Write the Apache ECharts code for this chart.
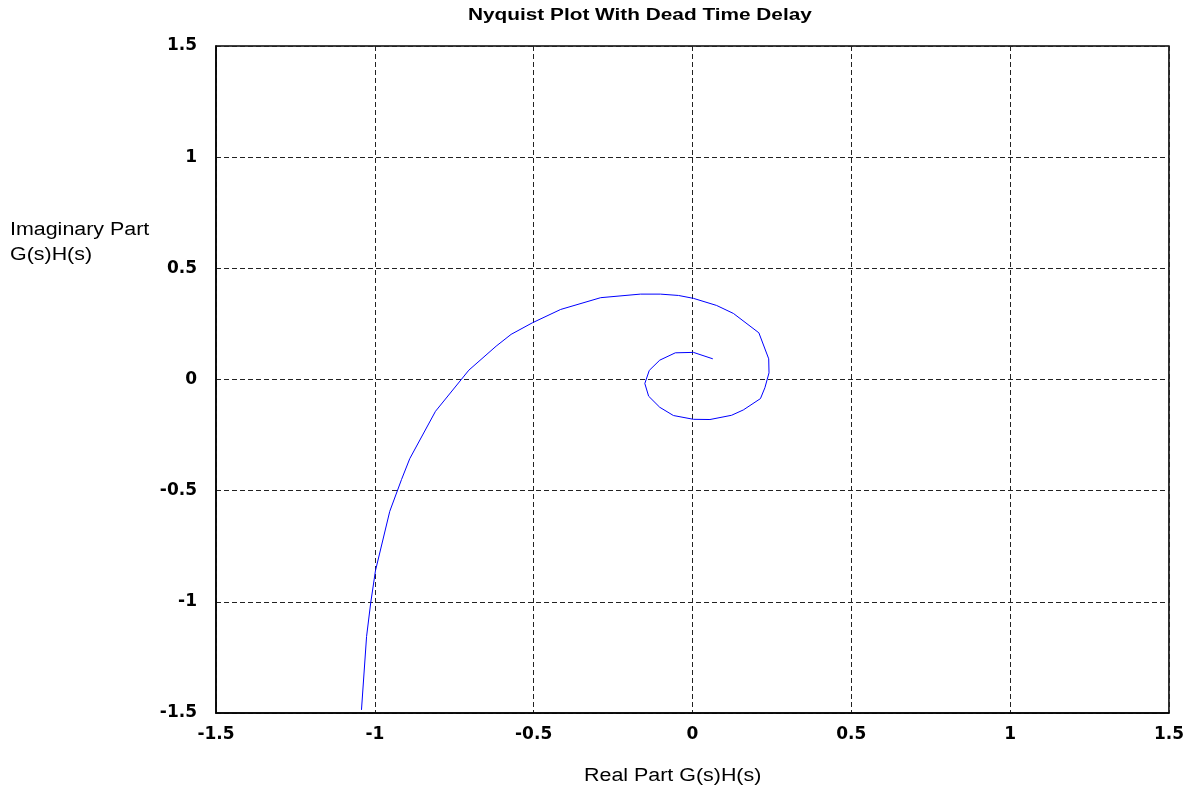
<!DOCTYPE html>
<html><head><meta charset="utf-8">
<script src="https://cdn.jsdelivr.net/npm/echarts@6/dist/echarts.min.js"></script>
<style>html,body{margin:0;padding:0;background:#fff}#c{width:1187px;height:793px}</style>
</head><body><div id="c"></div>
<script>
const realPart = [-1.042,-1.026,-1.013,-0.998,-0.953,-0.916,-0.890,-0.809,-0.704,-0.618,-0.571,-0.504,-0.415,-0.289,-0.164,-0.101,-0.044,0.003,0.076,0.129,0.209,0.240,0.241,0.228,0.214,0.160,0.123,0.055,0.003,-0.060,-0.103,-0.138,-0.150,-0.136,-0.103,-0.054,0.003,0.064];
const imagPart = [-1.486,-1.156,-1.005,-0.860,-0.593,-0.450,-0.356,-0.143,0.042,0.150,0.203,0.255,0.315,0.368,0.384,0.384,0.378,0.365,0.333,0.297,0.210,0.093,0.030,-0.037,-0.086,-0.137,-0.161,-0.180,-0.179,-0.162,-0.125,-0.075,-0.018,0.041,0.087,0.120,0.122,0.093];
const xTicks = [-1.5,-1,-0.5,0,0.5,1,1.5];
const yTicks = [-1.5,-1,-0.5,0,0.5,1,1.5];
const titleText = 'Nyquist Plot With Dead Time Delay';
const xName = 'Real Part G(s)H(s)';
const yNameLines = ['Imaginary Part','G(s)H(s)'];
const data = realPart.map((x,i)=>[x,imagPart[i]]);
const chart = echarts.init(document.getElementById('c'));
const tickFont = {fontFamily:'DejaVu Sans',fontWeight:'bold',fontSize:17,color:'#000'};
chart.setOption({
  animation:false,
  backgroundColor:'#fff',
  grid:{left:216,right:15,top:46,bottom:80,show:true,borderColor:'#000',borderWidth:1.5,backgroundColor:'transparent'},
  xAxis:{type:'value',min:xTicks[0],max:xTicks[xTicks.length-1],interval:0.5,
    axisLine:{show:true,onZero:false,lineStyle:{color:'#000',width:1.5}},axisTick:{show:false},
    axisLabel:Object.assign({margin:13},tickFont),
    splitLine:{show:true,lineStyle:{color:'#222',type:[5,3],width:1}}},
  yAxis:{type:'value',min:yTicks[0],max:yTicks[yTicks.length-1],interval:0.5,
    axisLine:{show:true,onZero:false,lineStyle:{color:'#000',width:1.5}},axisTick:{show:false},
    axisLabel:Object.assign({margin:19},tickFont),
    splitLine:{show:true,lineStyle:{color:'#222',type:[5,3],width:1}}},
  graphic:[
    {type:'text',x:468,y:16,scaleX:1.3,style:{text:titleText,font:'bold 16px "Liberation Sans", Arial',fill:'#000',textVerticalAlign:'middle'}},
    {type:'text',x:584,y:776,scaleX:1.19,style:{text:xName,font:'18px "Liberation Sans", Arial',fill:'#000',textVerticalAlign:'middle'}},
    {type:'text',x:10,y:230,scaleX:1.19,style:{text:yNameLines[0],font:'18px "Liberation Sans", Arial',fill:'#000',textVerticalAlign:'middle'}},
    {type:'text',x:10,y:255,scaleX:1.19,style:{text:yNameLines[1],font:'18px "Liberation Sans", Arial',fill:'#000',textVerticalAlign:'middle'}}
  ],
  series:[{type:'line',data:data,showSymbol:false,lineStyle:{color:'#0000ff',width:1},clip:true}]
});
</script></body></html>
